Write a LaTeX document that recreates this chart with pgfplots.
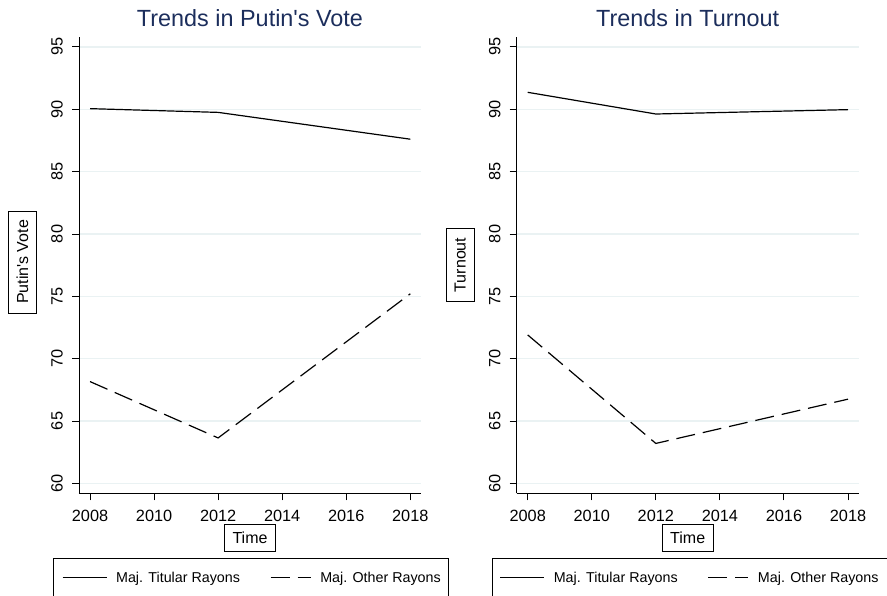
\documentclass[border=0pt]{standalone}
\usepackage{fontspec}
\setmainfont{Liberation Sans}
\usepackage{pgfplots}
\pgfplotsset{compat=1.18}

\definecolor{ttl}{RGB}{28,46,92}
\definecolor{grd}{RGB}{234,242,243}

\pgfplotsset{
  panel/.style={
    scale only axis, width=342pt, height=456.6pt,
    anchor=south west,
    xmin=2007.656, xmax=2018.334, ymin=59.2, ymax=95.82,
    xtick={2008,2010,...,2018}, ytick={60,65,...,95},
    axis x line*=bottom, axis y line*=left,
    axis line style={-, line width=0.9pt, black},
    tick align=outside, major tick length=7pt,
    tick style={black, line width=0.9pt},
    ymajorgrids, major grid style={grd, line width=1.4pt},
    /pgf/number format/assume math mode=true,
    /pgf/number format/1000 sep={},
    ticklabel style={font=\fontsize{16.3}{16.3}\selectfont},
    yticklabel style={rotate=90, anchor=south, inner sep=0pt, yshift=9pt},
    xticklabel style={anchor=north, inner sep=0pt, yshift=-10pt},
    title style={at={(rel axis cs:0.5,1)}, anchor=base, yshift=4pt,
      font=\fontsize{23.4}{23.4}\selectfont, text=ttl},
    xlabel style={at={(rel axis cs:0.5,0)}, anchor=center, yshift=-44.5pt,
      draw, line width=0.8pt, minimum height=27.7pt, inner xsep=7.8pt,
      font=\fontsize{16}{16}\selectfont},
    ylabel style={at={([xshift=-56.5pt]rel axis cs:0,0.5)}, anchor=center,
      draw, line width=0.8pt, minimum height=28.4pt, inner xsep=9pt,
      font=\fontsize{16}{16}\selectfont},
    legend columns=2,
    legend style={draw=none, fill=none, at={(rel axis cs:0,0)}, anchor=west,
      xshift=-17.3pt, yshift=-84.4pt, inner sep=0pt,
      nodes={inner sep=0pt}, font=\fontsize{14.3}{14.3}\selectfont,
      /tikz/every odd column/.append style={column sep=9pt},
      /tikz/every even column/.append style={column sep=30pt}},
    titular/.style={black, line width=1.2pt,
      legend image code/.code={\draw[##1] (0pt,0pt) -- (44pt,0pt);}},
    other/.style={black, line width=1.2pt, dash pattern=on 19pt off 8pt,
      legend image code/.code={\draw[##1] (0pt,0pt) -- (40pt,0pt);}},
  }
}

\begin{document}
\begin{tikzpicture}
\useasboundingbox (0pt,0pt) rectangle (887pt,595pt);

\begin{axis}[panel, at={(79pt,101.7pt)},
  title={Trends in Putin\textquotesingle s Vote}, xlabel={Time},
  ylabel={Putin\textquotesingle s Vote},
  ylabel style={at={([xshift=-56.5pt,yshift=3pt]rel axis cs:0,0.5)}}]
  \addplot[titular] coordinates {(2008,90.05) (2012,89.75) (2018,87.6)};
  \addlegendentry{Maj. Titular Rayons}
  \addplot[other] coordinates {(2008,68.16) (2012,63.64) (2018,75.2)};
  \addlegendentry{Maj. Other Rayons}
\end{axis}

\begin{axis}[panel, at={(516.7pt,101.7pt)},
  title={Trends in Turnout}, xlabel={Time}, ylabel={Turnout}]
  \addplot[titular] coordinates {(2008,91.36) (2012,89.62) (2018,89.97)};
  \addlegendentry{Maj. Titular Rayons}
  \addplot[other] coordinates {(2008,71.9) (2012,63.2) (2018,66.75)};
  \addlegendentry{Maj. Other Rayons}
\end{axis}

\draw[line width=0.9pt] (53.3pt,36.7pt) rectangle (448pt,-20pt);
\draw[line width=0.9pt] (492.3pt,36.7pt) rectangle (887pt,-20pt);
\end{tikzpicture}
\end{document}
